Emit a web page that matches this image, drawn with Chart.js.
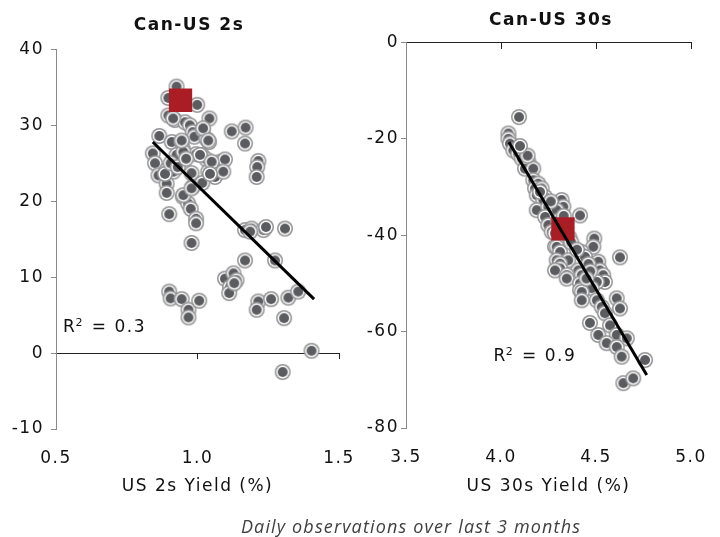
<!DOCTYPE html>
<html><head><meta charset="utf-8">
<script src="https://cdn.jsdelivr.net/npm/chart.js@4.4.1/dist/chart.umd.min.js"></script>
<style>
html,body{margin:0;padding:0;background:#fff;overflow:hidden;width:720px;height:537px}
#wrap{position:relative;width:720px;height:537px;overflow:hidden}
#c1{position:absolute;left:0;top:0}
#c2{position:absolute;left:360px;top:0}
#cap{position:absolute;left:161px;top:517px;width:500px;text-align:center;font:italic 18px/18px "Open Sans";letter-spacing:1.15px;color:#404040;white-space:nowrap}
</style></head><body>
<div id="wrap">
<canvas id="c1" width="378" height="537"></canvas>
<canvas id="c2" width="384" height="537"></canvas>
<div id="cap">Daily observations over last 3 months</div>
</div>
<script>
// ---- Can-US 2s ----
const us2Yield = [0.926,0.897,0.999,0.897,0.920,1.042,0.956,0.973,0.983,0.989,
1.018,1.032,1.041,1.121,1.170,1.168,0.865,0.909,0.944,0.948,
0.842,0.850,0.926,0.995,1.015,1.032,1.080,1.097,0.862,0.891,
0.915,0.979,1.038,1.062,1.091,0.891,0.891,0.983,1.017,0.948,
0.967,0.976,0.900,0.995,0.995,1.215,1.211,1.209,1.168,1.191,
1.233,1.242,1.309,0.979,1.168,1.274,1.097,1.127,1.138,1.115,
1.112,0.900,0.905,0.944,0.968,0.968,1.006,1.215,1.209,1.260,
1.321,1.356,1.306,1.403,1.301,0.950,0.885,0.950,1.020,1.038,
0.914,1.009,1.050,1.044,0.944,0.905,0.930,0.960,0.979,1.130,1.186];
const canUs2Spread = [35.1,33.6,32.7,31.3,30.7,30.9,30.4,30.0,29.1,28.5,
29.4,28.2,27.8,29.2,29.7,27.6,28.6,27.8,27.8,26.9,
26.3,25.0,26.1,26.2,26.1,25.5,25.2,25.5,23.4,24.1,
23.9,23.7,23.9,23.2,23.9,22.3,21.1,21.9,22.4,20.6,
19.7,19.0,18.3,17.7,17.1,25.3,24.5,23.2,16.2,16.4,
16.2,16.6,16.4,14.5,12.2,12.2,9.8,10.5,9.6,8.7,
7.9,8.1,7.2,7.1,5.7,4.7,6.9,6.8,5.7,7.1,
7.3,8.1,4.6,0.3,-2.5,26.5,23.6,20.8,29.6,28.0,
30.9,26.1,25.2,23.6,28.0,25.0,24.5,25.6,21.7,9.2,16.0];
const latestUs2Yield = [0.94];
const latestCanUs2Spread = [33.3];
const fit2Yield = [0.842, 1.412];
const fit2Spread = [27.8, 7.1];
const r2Value2 = '0.3';
const xTicks2 = [0.5, 1.0, 1.5];
const yTicks2 = [-10, 0, 10, 20, 30, 40];

// ---- Can-US 30s ----
const us30Yield = [4.095,4.039,4.039,4.047,4.065,4.091,4.109,4.144,4.153,4.126,
4.170,4.170,4.196,4.179,4.214,4.188,4.232,4.223,4.319,4.328,
4.188,4.249,4.293,4.416,4.232,4.249,4.267,4.300,4.340,4.284,
4.360,4.491,4.486,4.284,4.293,4.425,4.311,4.442,4.626,4.293,
4.354,4.512,4.311,4.311,4.407,4.284,4.521,4.346,4.425,4.538,
4.346,4.547,4.504,4.416,4.416,4.477,4.425,4.504,4.425,4.609,
4.626,4.530,4.547,4.468,4.574,4.512,4.609,4.662,4.556,4.609,
4.635,4.758,4.644,4.696,4.370,4.400,4.460,4.470,4.450,4.140,
4.100,4.205,4.262,4.330];
const canUs30Spread = [-15.5,-18.9,-20.0,-21.0,-22.4,-23.1,-24.1,-24.8,-25.8,-26.2,
-26.2,-28.6,-29.3,-30.3,-30.3,-31.7,-32.1,-32.7,-32.7,-34.1,
-34.8,-34.1,-34.8,-35.9,-36.2,-37.9,-39.3,-37.0,-38.0,-39.6,
-40.5,-40.7,-42.4,-42.4,-42.4,-43.5,-43.5,-44.5,-44.6,-45.2,
-45.2,-45.5,-45.9,-46.9,-47.3,-47.3,-47.3,-48.3,-48.3,-48.3,
-49.0,-49.7,-49.7,-50.0,-51.4,-51.0,-51.8,-53.5,-53.5,-53.1,
-55.2,-54.9,-56.2,-58.2,-58.7,-60.7,-60.7,-61.4,-62.4,-63.2,
-65.2,-65.9,-70.7,-69.7,-41.5,-43.0,-46.0,-47.5,-49.0,-23.5,
-21.5,-31.0,-33.0,-36.0];
const latestUs30Yield = [4.326];
const latestCanUs30Spread = [-38.7];
const fit30Yield = [4.042, 4.767];
const fit30Spread = [-20.7, -69.0];
const r2Value30 = '0.9';
const xTicks30 = [3.5, 4.0, 4.5, 5.0];
const yTicks30 = [-80, -60, -40, -20, 0];

const FONT = '"DejaVu Sans"';
Chart.defaults.font.family = FONT;
Chart.defaults.font.size = 17;
Chart.defaults.color = '#111';

const pts = (xs, ys) => xs.map((x, i) => ({x: x, y: ys[i]}));

function makeMarker() {
  const c = document.createElement('canvas');
  c.width = 18; c.height = 18;
  const g = c.getContext('2d');
  g.fillStyle = '#929294'; g.beginPath(); g.arc(9, 9, 8, 0, 2 * Math.PI); g.fill();
  g.fillStyle = '#ffffff'; g.beginPath(); g.arc(9, 9, 6.5, 0, 2 * Math.PI); g.fill();
  g.fillStyle = '#5b5c60'; g.beginPath(); g.arc(9, 9, 5, 0, 2 * Math.PI); g.fill();
  return c;
}
const marker = makeMarker();

const spacing = {
  id: 'spacing',
  beforeUpdate(c) { c.ctx.letterSpacing = '1.5px'; },
  beforeDraw(c) { c.ctx.letterSpacing = '1.5px'; }
};

const r2Plugin = {
  id: 'r2',
  afterDatasetsDraw(chart, args, o) {
    const ctx = chart.ctx;
    const px = chart.scales.x.getPixelForValue(o.x);
    const py = chart.scales.y.getPixelForValue(o.y);
    ctx.save();
    ctx.fillStyle = '#111';
    ctx.textBaseline = 'alphabetic';
    ctx.textAlign = 'left';
    ctx.font = '17px ' + FONT;
    ctx.fillText('R', px, py);
    let w = ctx.measureText('R').width;
    ctx.font = '11px ' + FONT;
    ctx.fillText('2', px + w - 1, py - 6);
    w += ctx.measureText('2').width;
    ctx.font = '17px ' + FONT;
    ctx.fillText(' = ' + o.value, px + w, py);
    ctx.restore();
  }
};

function makeChart(canvas, c) {
  const setTicks = list => s => { s.ticks = list.map(v => ({value: v})); };
  const scales = {
    x: { type: 'linear', axis: 'x', position: { y: 0 },
         min: c.xTicks[0], max: c.xTicks[c.xTicks.length - 1],
         afterBuildTicks: setTicks(c.xTicks),
         ticks: { display: false },
         grid: { drawOnChartArea: false, drawTicks: true, tickLength: c.xTickLen, color: '#222' },
         border: { color: '#222', width: 1 } },
    xb: { type: 'linear', axis: 'x', position: 'bottom',
          min: c.xTicks[0], max: c.xTicks[c.xTicks.length - 1],
          afterBuildTicks: setTicks(c.xTicks),
          ticks: { color: '#111', padding: 19, callback: v => Number(v).toFixed(1) },
          grid: { display: false, drawTicks: false },
          border: { display: false },
          title: { display: true, text: c.xTitle, color: '#111', font: { size: 17 },
                   padding: { top: 0, bottom: 40 } },
          afterFit: s => { s.height = c.bottomH; } },
    y: { type: 'linear', position: 'left',
         min: c.yTicks[0], max: c.yTicks[c.yTicks.length - 1],
         afterBuildTicks: setTicks(c.yTicks),
         ticks: { color: '#111', padding: c.yPad },
         grid: { drawOnChartArea: false, drawTicks: true, tickLength: 5, color: '#8a8a8a' },
         border: { color: '#8a8a8a' },
         afterFit: s => { s.width = c.yW; } },
    ySpacer: { type: 'linear', axis: 'y', position: 'right', min: 0, max: 1,
         ticks: { display: false }, grid: { display: false, drawTicks: false },
         border: { display: false }, afterFit: s => { s.width = c.spacer; } }
  };
  return new Chart(canvas, {
    type: 'scatter',
    data: {
      datasets: [
        { type: 'line', data: pts(c.fitX, c.fitY), borderColor: '#000', borderWidth: 3,
          pointRadius: 0, showLine: true, fill: false, tension: 0, order: 0, xAxisID: 'x', yAxisID: 'y' },
        { data: pts(c.lastX, c.lastY), pointStyle: 'rect', pointRadius: 16.5,
          backgroundColor: '#ab1d24', borderWidth: 0, order: 1, xAxisID: 'x', yAxisID: 'y' },
        { data: pts(c.xs, c.ys), pointStyle: marker, pointRadius: 8, order: 2, xAxisID: 'x', yAxisID: 'y' }
      ]
    },
    options: {
      responsive: false, animation: false, events: [],
      layout: { padding: { left: 0, right: c.padRight, top: 0, bottom: 0 } },
      plugins: {
        legend: { display: false }, tooltip: { enabled: false },
        title: { display: true, text: c.title, color: '#111',
                 font: { size: 17, weight: 'bold' }, padding: c.titlePad },
        r2: { x: c.r2x, y: c.r2y, value: c.r2 }
      },
      scales: scales
    },
    plugins: [spacing, r2Plugin]
  });
}

makeChart(document.getElementById('c1'), {
  xs: us2Yield, ys: canUs2Spread, lastX: latestUs2Yield, lastY: latestCanUs2Spread,
  fitX: fit2Yield, fitY: fit2Spread, r2: r2Value2, r2x: 0.525, r2y: 2.8,
  xTicks: xTicks2, yTicks: yTicks2, title: 'Can-US 2s', xTitle: 'US 2s Yield (%)',
  titlePad: { top: 15, bottom: 14 }, padRight: 0, bottomH: 108, yW: 56, yPad: 7, xTickLen: 5, spacer: 39
});
makeChart(document.getElementById('c2'), {
  xs: us30Yield, ys: canUs30Spread, lastX: latestUs30Yield, lastY: latestCanUs30Spread,
  fitX: fit30Yield, fitY: fit30Spread, r2: r2Value30, r2x: 3.96, r2y: -66.1,
  xTicks: xTicks30, yTicks: yTicks30, title: 'Can-US 30s', xTitle: 'US 30s Yield (%)',
  titlePad: { top: 10, bottom: 12 }, padRight: 2, bottomH: 109, yW: 46, yPad: 2, xTickLen: 6, spacer: 51
});
</script>
</body></html>
